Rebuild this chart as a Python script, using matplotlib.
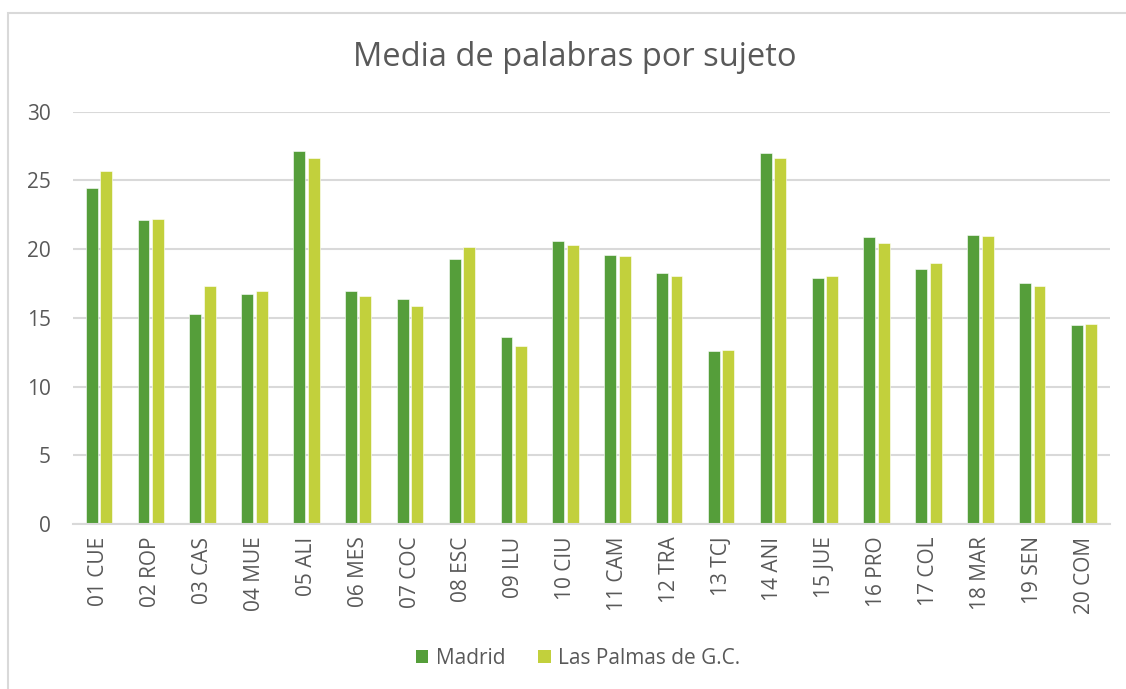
import matplotlib
matplotlib.use("Agg")
import matplotlib.pyplot as plt
from matplotlib.patches import Patch, Rectangle
import numpy as np

# ── Data ──────────────────────────────────────────────────────────────────────
SUBJECTS = ["01 CUE", "02 ROP", "03 CAS", "04 MUE", "05 ALI", "06 MES", "07 COC",
            "08 ESC", "09 ILU", "10 CIU", "11 CAM", "12 TRA", "13 TCJ", "14 ANI",
            "15 JUE", "16 PRO", "17 COL", "18 MAR", "19 SEN", "20 COM"]
MADRID = [24.45, 22.12, 15.31, 16.76, 27.12, 16.93, 16.40, 19.26, 13.63, 20.60,
          19.60, 18.25, 12.57, 27.00, 17.93, 20.89, 18.58, 21.03, 17.54, 14.46]
LAS_PALMAS = [25.71, 22.22, 17.32, 16.93, 26.64, 16.62, 15.87, 20.14, 12.93, 20.28,
              19.53, 18.05, 12.66, 26.62, 18.07, 20.47, 18.97, 20.98, 17.32, 14.56]
SERIES = ["Madrid", "Las Palmas de G.C."]
YTICKS = [0, 5, 10, 15, 20, 25, 30]

# ── Style ─────────────────────────────────────────────────────────────────────
GREEN = "#559E3A"
LIME = "#C2D03C"
GRID = "#D9D9D9"
TEXT = "#595959"

plt.rcParams.update({
    "font.family": ["Open Sans", "DejaVu Sans"],
    "text.color": TEXT,
})

W, H = 1126, 689
fig = plt.figure(figsize=(W / 100, H / 100), dpi=100)
ax = fig.add_axes([73 / W, 1 - 524 / H, (1110 - 73) / W, (524 - 111.7) / H])

x = np.arange(len(SUBJECTS))
bw = 0.23
ax.bar(x - 0.14, MADRID, bw, color=GREEN, edgecolor="white", linewidth=0.4, zorder=3)
ax.bar(x + 0.14, LAS_PALMAS, bw, color=LIME, edgecolor="white", linewidth=0.4, zorder=3)

ax.set_xlim(-0.5, len(SUBJECTS) - 0.5)
ax.set_ylim(0, 30)
ax.set_yticks(YTICKS)
ax.set_xticks(x)
ax.set_xticklabels(SUBJECTS, rotation=90, fontsize=15, color=TEXT)
ax.tick_params(axis="x", length=0, pad=9)
ax.tick_params(axis="y", length=0, pad=16, labelsize=15, labelcolor=TEXT)

ax.yaxis.grid(True, color=GRID, linewidth=1.5, zorder=0)
for s in ["top", "right", "left"]:
    ax.spines[s].set_visible(False)
ax.spines["bottom"].set_color(GRID)
ax.spines["bottom"].set_linewidth(1.5)
ax.spines["bottom"].set_zorder(4)

fig.text(575 / W, 1 - 57 / H, "Media de palabras por sujeto",
         ha="center", va="center", fontsize=23.5, color=TEXT)

handles = [Patch(facecolor=GREEN, label=SERIES[0]),
           Patch(facecolor=LIME, label=SERIES[1])]
fig.legend(handles=handles, loc="center", ncol=2, frameon=False,
           bbox_to_anchor=(578 / W, 1 - 658 / H), fontsize=15,
           handlelength=0.6, handleheight=0.6, handletextpad=0.35,
           columnspacing=1.6)

# chart frame (only left and top edges visible in the crop)
fig.add_artist(Rectangle((8 / W, -0.1), 1.2, 1 - 13 / H + 0.1,
                         transform=fig.transFigure, fill=False,
                         edgecolor=GRID, linewidth=1.5))

fig.savefig("out.png", dpi=100, facecolor="white")
